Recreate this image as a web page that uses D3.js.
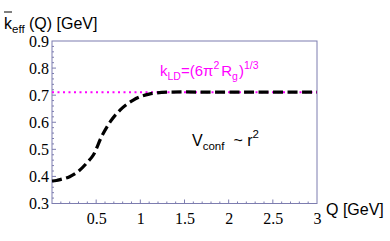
<!DOCTYPE html>
<html>
<head>
<meta charset="utf-8">
<script src="https://cdn.jsdelivr.net/npm/d3@7"></script>
<style>
  body { margin: 0; background: #fff; }
</style>
</head>
<body>
<div id="content"></div>
<script>
// curve
var qValues = [0, 0.05, 0.1, 0.2, 0.3, 0.4, 0.47, 0.56, 0.66, 0.77, 0.92, 1.1, 1.3, 1.5, 1.8, 2.2, 2.6, 3];
var kValues = [0.383, 0.385, 0.389, 0.399, 0.419, 0.452, 0.48, 0.546, 0.602, 0.645, 0.682, 0.704, 0.711, 0.712, 0.711, 0.711, 0.711, 0.711];
var kLD = 0.711;

var xTicks = [0.5, 1, 1.5, 2, 2.5, 3];
var yTicks = [0.3, 0.4, 0.5, 0.6, 0.7, 0.8, 0.9];

var width = 390, height = 241;
var plotLeft = 52, plotRight = 317, plotTop = 41, plotBottom = 203.5;
var frameColor = "#7d7daf";
var sans = "'Liberation Sans', Arial, sans-serif";
var serif = "'Liberation Serif', 'Times New Roman', serif";

var x = d3.scaleLinear().domain([0, 3]).range([plotLeft, plotRight]);
var y = d3.scaleLinear().domain([0.3, 0.9]).range([plotBottom, plotTop]);

var svg = d3.select("#content").append("svg").attr("width", width).attr("height", height)
  .style("font-family", sans);

// frame
svg.append("rect").attr("x", plotLeft).attr("y", plotTop).attr("width", plotRight - plotLeft).attr("height", plotBottom - plotTop)
  .attr("fill", "none").attr("stroke", frameColor).attr("stroke-width", 1);

// minor ticks (inside)
var g = svg.append("g");
g.selectAll("line.xminor").data(d3.range(1, 30).map(function(i) { return i / 10; }))
  .enter().append("line")
  .attr("x1", function(d) { return x(d); }).attr("x2", function(d) { return x(d); })
  .attr("y1", plotBottom).attr("y2", function(d) { return Math.abs(d * 2 - Math.round(d * 2)) < 1e-6 ? plotBottom - 4 : plotBottom - 2; })
  .attr("stroke", frameColor);
g.selectAll("line.yminor").data(d3.range(16, 45).map(function(i) { return i / 50; }))
  .enter().append("line")
  .attr("y1", function(d) { return y(d); }).attr("y2", function(d) { return y(d); })
  .attr("x1", plotLeft).attr("x2", function(d) { return Math.abs(d * 10 - Math.round(d * 10)) < 1e-6 ? plotLeft + 4 : plotLeft + 2; })
  .attr("stroke", frameColor);

// axes for labels
var xAxis = d3.axisBottom(x).tickValues(xTicks).tickSize(0).tickPadding(9).tickFormat(d3.format("~g"));
var yAxis = d3.axisLeft(y).tickValues(yTicks).tickSize(0).tickPadding(3).tickFormat(d3.format(".1f"));
function styleAxis(s) {
  s.select(".domain").remove();
  s.selectAll("text").attr("fill", "#000")
    .style("font-family", serif).style("font-size", "16px");
}
svg.append("g").attr("transform", "translate(0," + plotBottom + ")").call(xAxis).call(styleAxis);
svg.append("g").attr("transform", "translate(" + plotLeft + ",0)").call(yAxis).call(styleAxis);

// kLD dotted line
svg.append("line").attr("x1", x(0)).attr("x2", x(3)).attr("y1", y(kLD)).attr("y2", y(kLD))
  .attr("stroke", "#ff00ff").attr("stroke-width", 2).attr("stroke-dasharray", "2,3.5");

// dashed curve
var line = d3.line().x(function(d, i) { return x(qValues[i]); }).y(function(d) { return y(d); }).curve(d3.curveMonotoneX);
svg.append("path").datum(kValues).attr("d", line).attr("fill", "none")
  .attr("stroke", "#000").attr("stroke-width", 3.2).attr("stroke-dasharray", "10,4.5");

// title
var t = svg.append("text").attr("x", 4).attr("y", 29).attr("font-size", 16);
t.append("tspan").text("k");
t.append("tspan").attr("dy", 4).attr("font-size", 11.5).text("eff");
t.append("tspan").attr("dy", -4).text(" (Q) [GeV]");
svg.append("line").attr("x1", 4).attr("x2", 12).attr("y1", 12).attr("y2", 12).attr("stroke", "#000").attr("stroke-width", 1);

// x label
svg.append("text").attr("x", 326).attr("y", 215).attr("font-size", 16).text("Q [GeV]");

// kLD label
var k = svg.append("text").attr("x", 160).attr("y", 76).attr("font-size", 15).attr("fill", "#ff00ff");
k.append("tspan").text("k");
k.append("tspan").attr("dy", 4).attr("font-size", 10.5).text("LD");
k.append("tspan").attr("dy", -4).text("=(6π");
k.append("tspan").attr("dy", -7).attr("font-size", 10.5).text("2");
k.append("tspan").attr("dy", 7).attr("dx", 2).text("R");
k.append("tspan").attr("dy", 4).attr("font-size", 10.5).text("g");
k.append("tspan").attr("dy", -4).attr("dx", 1).text(")");
k.append("tspan").attr("dy", -7).attr("font-size", 10.5).text("1/3");

// Vconf label
var v = svg.append("text").attr("x", 192).attr("y", 146).attr("font-size", 16);
v.append("tspan").text("V");
v.append("tspan").attr("dy", 4).attr("font-size", 11.5).text("conf");
v.append("tspan").attr("dy", -4).attr("dx", 9).text("~ r");
v.append("tspan").attr("dy", -8).attr("font-size", 11.5).text("2");
</script>
</body>
</html>
